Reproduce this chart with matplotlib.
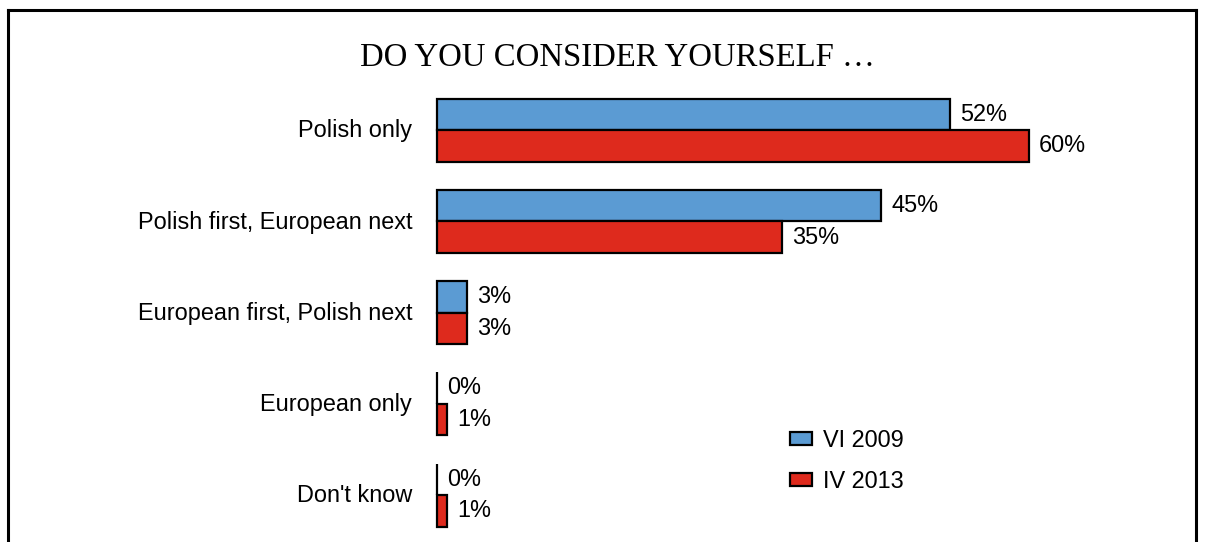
import matplotlib
matplotlib.use("Agg")
import matplotlib.pyplot as plt
from matplotlib.lines import Line2D
from matplotlib.patches import Patch

categories = ["Polish only", "Polish first, European next",
              "European first, Polish next", "European only", "Don't know"]
series_names = ["VI 2009", "IV 2013"]
values_2009 = [52, 45, 3, 0, 0]
values_2013 = [60, 35, 3, 1, 1]
colors = ["#5B9BD3", "#DE2A1D"]
title = "DO YOU CONSIDER YOURSELF \u2026"

W, H, DPI = 1206, 542, 100
fig = plt.figure(figsize=(W / DPI, H / DPI), dpi=DPI)
plt.rcParams["font.family"] = ["Liberation Sans", "DejaVu Sans"]
FS = 16.9

def px_x(x):
    return x / W

def px_y(y):
    return 1 - y / H

# axes spans the plotting area; bars start at the left edge
ax_left, ax_right, ax_top, ax_bottom = 437, 1196, 10, 542
ax = fig.add_axes([px_x(ax_left), px_y(ax_bottom),
                   px_x(ax_right - ax_left), (ax_bottom - ax_top) / H])
px_per_unit = 9.87
ax.set_xlim(0, (ax_right - ax_left) / px_per_unit)
group_px = 91.25
first_center = 130
ax.set_ylim((ax_bottom - first_center) / group_px, (ax_top - first_center) / group_px)
ax.axis("off")

bar_h = 31.5 / group_px
pos = list(range(len(categories)))
for k, (vals, col) in enumerate(zip([values_2009, values_2013], colors)):
    ys = [p + (k - 0.5) * bar_h for p in pos]
    ax.barh(ys, vals, height=bar_h, color=col, edgecolor="black",
            linewidth=1.6, label=series_names[k], clip_on=False)
    for y, v in zip(ys, vals):
        ax.annotate(f"{v}%", (v, y), xytext=(7.2, 0), textcoords="offset points",
                    ha="left", va="center", fontsize=FS, color="black")

for p, name in zip(pos, categories):
    ax.annotate(name, (0, p), xytext=(-(ax_left - 412) * 0.72, -0.7),
                textcoords="offset points", ha="right", va="center",
                fontsize=FS, color="black")

fig.text(px_x(617), px_y(58), title, ha="center", va="center",
         fontsize=23.6, family=["Liberation Serif", "DejaVu Serif"], color="black")

handles = [Patch(facecolor=c, edgecolor="black", linewidth=1.6) for c in colors]
fig.legend(handles, series_names, loc="upper left",
           bbox_to_anchor=(px_x(785), px_y(424)), frameon=False,
           fontsize=FS, handlelength=0.95, handleheight=0.5,
           handletextpad=0.46, labelspacing=0.76, borderpad=0.2,
           borderaxespad=0)

# outer frame: left, top and right edges
frame_kw = dict(color="black", linewidth=2.2, transform=fig.transFigure)
fig.add_artist(Line2D([px_x(8), px_x(8)], [px_y(10), 0], **frame_kw))
fig.add_artist(Line2D([px_x(8), px_x(1196)], [px_y(10), px_y(10)], **frame_kw))
fig.add_artist(Line2D([px_x(1196), px_x(1196)], [px_y(10), 0], **frame_kw))

fig.savefig("out.png", dpi=DPI)
